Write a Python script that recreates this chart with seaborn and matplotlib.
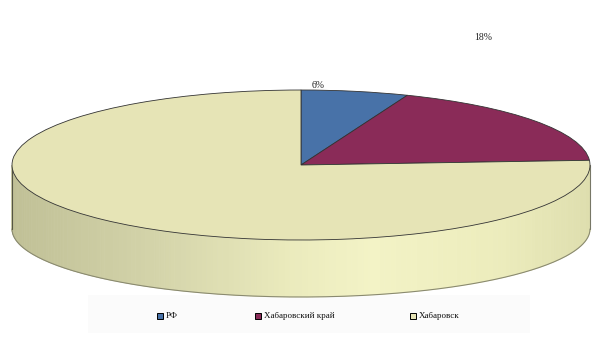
import numpy as np
import matplotlib
matplotlib.use("Agg")
import matplotlib.pyplot as plt
import seaborn as sns
from matplotlib.transforms import Affine2D
from matplotlib.patches import Polygon, Rectangle
from matplotlib.colors import LinearSegmentedColormap

categories = ["РФ", "Хабаровский край", "Хабаровск"]
values = [6, 18, 76]
shown_labels = ["6%", "18%", None]
colors = ["#4872a8", "#8a2b58", "#e6e4b6"]

sns.set_theme(style="white")
plt.rcParams["font.family"] = ["Liberation Serif", "DejaVu Serif"]

fig = plt.figure(figsize=(6.05, 3.4), dpi=100)
ax = fig.add_axes([0, 0, 1, 1])

cx, cy, rx, ry = 301, 165, 289, 75
cyb, ryb = 229, 68

# side of the cylinder (front half)
side_cmap = LinearSegmentedColormap.from_list(
    "side", [(0.0, "#c0c096"), (0.25, "#d4d4aa"), (0.5, "#ececbe"),
             (0.62, "#f3f3c6"), (0.85, "#ececbc"), (1.0, "#dedeae")])
N = 160
ts = np.linspace(0, np.pi, N + 1)
for i in range(N):
    t0, t1 = ts[i], ts[i + 1]
    xs = [cx + rx * np.cos(t0), cx + rx * np.cos(t1), cx + rx * np.cos(t1), cx + rx * np.cos(t0)]
    ys = [cy + ry * np.sin(t0), cy + ry * np.sin(t1), cyb + ryb * np.sin(t1), cyb + ryb * np.sin(t0)]
    c = side_cmap((np.cos((t0 + t1) / 2) + 1) / 2)
    ax.add_patch(Polygon(list(zip(xs, ys)), closed=True, facecolor=c, edgecolor=c, lw=0.5, zorder=1))
# bottom outline and edges
tb = np.linspace(0, np.pi, 200)
ax.plot(cx + rx * np.cos(tb), cyb + ryb * np.sin(tb), color="#8a8a70", lw=0.8, zorder=2)
ax.plot([cx - rx, cx - rx], [cy, cyb], color="#555544", lw=0.8, zorder=2)
ax.plot([cx + rx, cx + rx], [cy, cyb], color="#777766", lw=0.8, zorder=2)

# top of the pie
wedges, _ = ax.pie(values, colors=colors, startangle=90, counterclock=False,
                   wedgeprops=dict(edgecolor="#333333", linewidth=0.6))
tr = Affine2D().scale(rx, -ry).translate(cx, cy) + ax.transData
for w in wedges:
    w.set_transform(tr)
    w.set_zorder(3)

# value labels
label_pos = [(318, 85), (483, 37), None]
for lab, pos in zip(shown_labels, label_pos):
    if lab:
        ax.text(pos[0], pos[1], lab, ha="center", va="center", fontsize=7, color="#222222", zorder=5)

# legend area
ax.add_patch(Rectangle((88, 295), 442, 38, facecolor="#fbfbfb", edgecolor="none", zorder=0))
leg_x = [160, 258, 413]
for x, lab, c in zip(leg_x, categories, colors):
    ax.add_patch(Rectangle((x - 3, 312.5), 6, 6, facecolor=c, edgecolor="black", lw=0.7, zorder=5))
    ax.text(x + 6, 315.5, lab, ha="left", va="center", fontsize=6.5, color="#111111", zorder=5)

ax.set_xlim(0, 605)
ax.set_ylim(340, 0)
ax.set_aspect("auto")
ax.axis("off")
fig.savefig("out.png", dpi=100)
